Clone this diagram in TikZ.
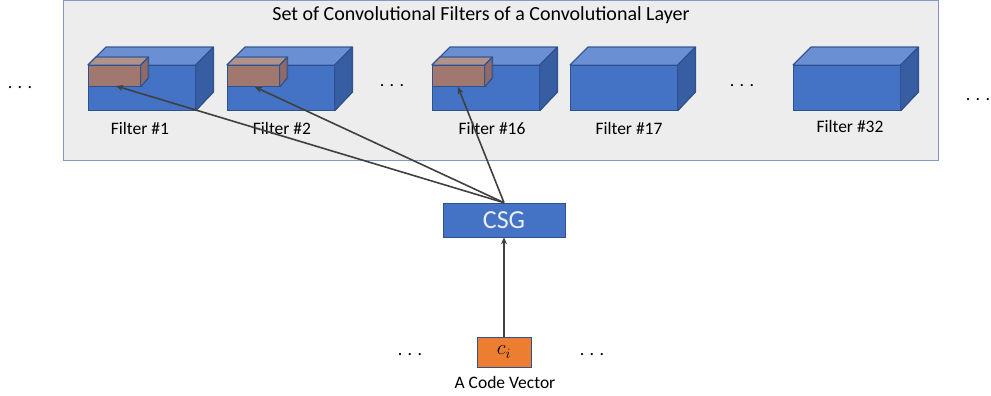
\documentclass[tikz,border=0pt]{standalone}
\usepackage{fontspec}
\setmainfont{Carlito}
\usetikzlibrary{arrows.meta,calc}
\definecolor{bfront}{HTML}{4472C4}
\definecolor{btop}{HTML}{6A8FD2}
\definecolor{bside}{HTML}{375DA3}
\definecolor{bedge}{HTML}{2F528F}
\definecolor{rfront}{HTML}{A0786F}
\definecolor{rtop}{HTML}{B0928C}
\definecolor{rside}{HTML}{8E6A6A}
\definecolor{panel}{HTML}{EDEDED}
\definecolor{panelb}{HTML}{8497C0}
\definecolor{arr}{HTML}{404040}
\definecolor{orng}{HTML}{ED7D31}
\tikzset{
  front/.style={draw=bedge, fill=bfront, line width=0.8pt, inner sep=0pt, minimum width=107pt, minimum height=45pt, anchor=north west},
  topf/.style={draw=bedge, fill=btop, line width=0.8pt, line join=round},
  sidef/.style={draw=bedge, fill=bside, line width=0.8pt, line join=round},
  kfront/.style={draw=bedge, fill=rfront, line width=0.8pt, inner sep=0pt, minimum width=52pt, minimum height=21pt, anchor=north west},
  ktop/.style={draw=bedge, fill=rtop, line width=0.8pt, line join=round},
  kside/.style={draw=bedge, fill=rside, line width=0.8pt, line join=round},
  lbl/.style={font=\fontsize{17.5}{20}\selectfont, text=black},
  dots/.style={font=\fontsize{18}{20}\selectfont},
  conn/.style={draw=arr, line width=1.6pt, -{Stealth[length=7pt,width=6pt]}},
}
\newcommand{\mkfilter}[3]{%
  \node[front] (#1) at (#2,#3) {};
  \fill[topf] (#1.north west) -- ++(18,-18) -- ++(107,0) -- (#1.north east) -- cycle;
  \fill[sidef] (#1.north east) -- ++(18,-18) -- ++(0,45) -- (#1.south east) -- cycle;
  \draw[bedge, line width=0.8pt] (#1.north west) -- ++(18,-18) -- ++(107,0) -- ++(0,45) -- (#1.south east) (#1.north east) -- ++(18,-18);
}
\newcommand{\mkkernel}[3]{%
  \node[kfront] (#1) at (#2,#3) {};
  \fill[ktop] (#1.north west) -- ++(8,-8) -- ++(52,0) -- (#1.north east) -- cycle;
  \fill[kside] (#1.north east) -- ++(8,-8) -- ++(0,21) -- (#1.south east) -- cycle;
  \draw[bedge, line width=0.8pt] (#1.north west) -- ++(8,-8) -- ++(52,0) -- ++(0,21) -- (#1.south east) (#1.north east) -- ++(8,-8);
}
\begin{document}
\begin{tikzpicture}[x=1pt,y=-1pt]
\useasboundingbox (0,0) rectangle (991,396);
\node[draw=panelb, fill=panel, line width=0.8pt, minimum width=875pt, minimum height=160pt, anchor=north west, inner sep=0pt] (panel) at (63,0) {};
\node[font=\fontsize{20}{23}\selectfont] (title) at (481,15) {Set of Convolutional Filters of a Convolutional Layer};
\mkfilter{f1}{88}{65}
\mkfilter{f2}{227}{65}
\mkfilter{f16}{432}{65}
\mkfilter{f17}{570}{65}
\mkfilter{f32}{793}{65}
\mkkernel{k1}{88}{65}
\mkkernel{k2}{227}{65}
\mkkernel{k16}{432}{65}
\node[lbl] (l1) at (140,128) {Filter \#1};
\node[lbl] (l2) at (282,128) {Filter \#2};
\node[lbl] (l16) at (492,128) {Filter \#16};
\node[lbl] (l17) at (629,128) {Filter \#17};
\node[lbl] (l32) at (850,126) {Filter \#32};
\node[dots] (d1) at (20,88) {. . .};
\node[dots] (d2) at (392,86) {. . .};
\node[dots] (d3) at (742,86) {. . .};
\node[dots] (d4) at (978,100) {. . .};
\node[dots] (d5) at (410,355) {. . .};
\node[dots] (d6) at (592,355) {. . .};
\node[draw=bedge, fill=bfront, line width=0.6pt, minimum width=122pt, minimum height=34pt, inner sep=0pt, text=white!88!bfront, font=\fontsize{26}{28}\selectfont] (csg) at (504,220) {CSG};
\node[draw=bedge, fill=orng, line width=0.6pt, minimum width=54pt, minimum height=30pt, inner sep=0pt, font=\fontsize{22}{24}\selectfont] (ci) at (504,352) {$c_i$};
\node[lbl] (cv) at (505,382) {A Code Vector};
\coordinate (t1) at (116,86);
\coordinate (t2) at (255,87);
\coordinate (t16) at (458,87);
\draw[conn] (csg.north) -- (t1);
\draw[conn] (csg.north) -- (t2);
\draw[conn] (csg.north) -- (t16);
\draw[conn] (ci.north) -- (csg.south);
\end{tikzpicture}
\end{document}
